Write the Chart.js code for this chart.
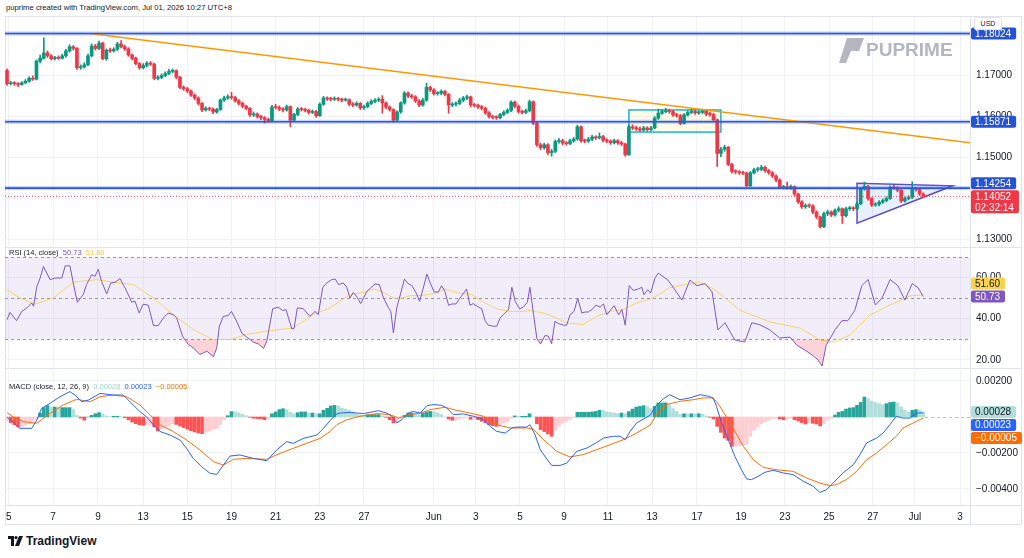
<!DOCTYPE html>
<html>
<head>
<meta charset="utf-8">
<title>EURUSD 4H</title>
<script src="https://cdn.jsdelivr.net/npm/chart.js@4.4.1/dist/chart.umd.min.js"></script>
<style>
  html, body { margin: 0; padding: 0; background: #fff; }
  body { width: 1024px; height: 558px; position: relative; overflow: hidden; font-family: "Liberation Sans", Arial, sans-serif; color: #131722; }
  canvas { position: absolute; left: 0; z-index: 2; }
  .sep { position: absolute; background: #e0e3eb; z-index: 1; }
  #header { position: absolute; left: 6px; top: 3px; font-size: 7.7px; color: #131722; }
  .legend { position: absolute; left: 9px; font-size: 7.5px; z-index: 3; white-space: pre; }
  #usd { position: absolute; left: 974px; top: 17px; width: 26px; height: 11px; border: 1px solid #e0e3eb; border-radius: 2px; font-size: 7px; line-height: 11px; text-align: center; z-index: 3; background: #fff; }
  #brand { position: absolute; left: 8px; top: 534px; font-size: 12px; font-weight: 700; display: flex; align-items: center; gap: 3px; }
</style>
</head>
<body>
<div id="header">puprime created with TradingView.com, Jul 01, 2026 10:27 UTC+8</div>
<div class="sep" style="left:5px;top:16px;width:1016px;height:1px"></div>
<div class="sep" style="left:5px;top:247px;width:1016px;height:1px"></div>
<div class="sep" style="left:5px;top:368px;width:1016px;height:1px"></div>
<div class="sep" style="left:5px;top:505px;width:1016px;height:1px"></div>
<div class="sep" style="left:5px;top:524px;width:1016px;height:1px"></div>
<div class="sep" style="left:970px;top:16px;width:1px;height:508px"></div>
<div class="sep" style="left:5px;top:16px;width:1px;height:508px"></div>
<div class="sep" style="left:1021px;top:16px;width:1px;height:508px"></div>
<div id="usd">USD</div>
<canvas id="price" width="1024" height="230" style="top:17px"></canvas>
<canvas id="rsi" width="1024" height="121" style="top:247px"></canvas>
<canvas id="macd" width="1024" height="157" style="top:368px"></canvas>
<div class="legend" style="top:248px">RSI (14, close)  <span style="color:#7e57c2">50.73</span>  <span style="color:#f5c842">51.60</span></div>
<div class="legend" style="top:382px">MACD (close, 12, 26, 9)  <span style="color:#9fd6cf">0.00028</span>  <span style="color:#2962ff">0.00023</span>  <span style="color:#ff6d00">&minus;0.00005</span></div>
<div id="brand">
  <svg width="15" height="10" viewBox="0 0 15 10"><path d="M0 0h6v10H3V3H0z" fill="#131722"/><circle cx="8" cy="1.6" r="1.6" fill="#131722"/><path d="M11 0h4l-4 10H7z" fill="#131722"/></svg>
  <span>TradingView</span>
</div>

<script>
const UP = '#089981';
const DOWN = '#f23645';
const X_MIN = -0.55;
const X_MAX = 261.7;

// x axis labels (position in bar index)
const xTickPos = [0.5, 12.5, 24.7, 37, 49, 61, 73, 85, 97, 116, 127.4, 139.4, 151.4, 163.3, 175.3, 187.5, 199.5, 211.4, 223.4, 235.3, 246.7, 259];
const xTickText = ['5', '7', '9', '13', '15', '19', '21', '23', '27', 'Jun', '3', '5', '9', '11', '13', '17', '19', '23', '25', '27', 'Jul', '3'];

// 4H candles
const firstOpen = 1.1712;
const closes = [
  1.1680, 1.1682, 1.1680, 1.1678, 1.1682, 1.1686, 1.1693, 1.1691, 1.1735, 1.1742,
  1.1755, 1.1748, 1.1741, 1.1743, 1.1742, 1.1748, 1.1760, 1.1770, 1.1766, 1.1719,
  1.1721, 1.1726, 1.1748, 1.1772, 1.1766, 1.1779, 1.1741, 1.1762, 1.1760, 1.1764,
  1.1777, 1.1770, 1.1765, 1.1750, 1.1742, 1.1729, 1.1719, 1.1725, 1.1730, 1.1728,
  1.1693, 1.1695, 1.1700, 1.1705, 1.1710, 1.1712, 1.1696, 1.1671, 1.1668, 1.1662,
  1.1652, 1.1645, 1.1632, 1.1616, 1.1620, 1.1618, 1.1611, 1.1617, 1.1640, 1.1645,
  1.1648, 1.1646, 1.1638, 1.1632, 1.1625, 1.1620, 1.1604, 1.1606, 1.1600, 1.1597,
  1.1593, 1.1590, 1.1623, 1.1622, 1.1618, 1.1616, 1.1624, 1.1591, 1.1605, 1.1618,
  1.1617, 1.1615, 1.1610, 1.1612, 1.1602, 1.1630, 1.1645, 1.1643, 1.1642, 1.1644,
  1.1642, 1.1640, 1.1641, 1.1630, 1.1628, 1.1632, 1.1621, 1.1624, 1.1632, 1.1637,
  1.1640, 1.1642, 1.1633, 1.1623, 1.1617, 1.1591, 1.1611, 1.1633, 1.1657, 1.1650,
  1.1648, 1.1638, 1.1628, 1.1640, 1.1671, 1.1665, 1.1656, 1.1657, 1.1661, 1.1654,
  1.1628, 1.1630, 1.1632, 1.1640, 1.1645, 1.1648, 1.1628, 1.1627, 1.1624, 1.1620,
  1.1609, 1.1600, 1.1598, 1.1597, 1.1605, 1.1610, 1.1615, 1.1635, 1.1625, 1.1612,
  1.1610, 1.1614, 1.1636, 1.1584, 1.1531, 1.1524, 1.1531, 1.1512, 1.1515, 1.1539,
  1.1541, 1.1535, 1.1534, 1.1541, 1.1545, 1.1575, 1.1541, 1.1540, 1.1545, 1.1550,
  1.1548, 1.1551, 1.1542, 1.1540, 1.1536, 1.1541, 1.1536, 1.1533, 1.1507, 1.1575,
  1.1572, 1.1570, 1.1567, 1.1572, 1.1568, 1.1572, 1.1596, 1.1608, 1.1612, 1.1614,
  1.1612, 1.1604, 1.1602, 1.1583, 1.1604, 1.1610, 1.1612, 1.1609, 1.1610, 1.1613,
  1.1606, 1.1605, 1.1592, 1.1510, 1.1520, 1.1525, 1.1483, 1.1466, 1.1465, 1.1463,
  1.1462, 1.1431, 1.1463, 1.1470, 1.1471, 1.1476, 1.1468, 1.1463, 1.1455, 1.1445,
  1.1427, 1.1428, 1.1426, 1.1429, 1.1411, 1.1392, 1.1380, 1.1383, 1.1382, 1.1367,
  1.1355, 1.1331, 1.1363, 1.1367, 1.1360, 1.1371, 1.1375, 1.1358, 1.1375, 1.1376,
  1.1375, 1.1387, 1.1423, 1.1430, 1.1400, 1.1384, 1.1386, 1.1391, 1.1395, 1.1400,
  1.1427, 1.1426, 1.1420, 1.1394, 1.1400, 1.1403, 1.1423, 1.1422, 1.1411, 1.14052
];
const highs = [
  1.1716, 1.1686, 1.1685, 1.1683, 1.1685, 1.1690, 1.1697, 1.1699, 1.1738, 1.1750,
  1.1792, 1.1760, 1.1751, 1.1747, 1.1748, 1.1752, 1.1764, 1.1775, 1.1773, 1.1768,
  1.1726, 1.1731, 1.1752, 1.1777, 1.1776, 1.1784, 1.1781, 1.1765, 1.1767, 1.1768,
  1.1781, 1.1785, 1.1774, 1.1768, 1.1753, 1.1745, 1.1732, 1.1729, 1.1734, 1.1734,
  1.1730, 1.1700, 1.1704, 1.1709, 1.1715, 1.1716, 1.1714, 1.1698, 1.1675, 1.1671,
  1.1665, 1.1655, 1.1648, 1.1634, 1.1624, 1.1623, 1.1621, 1.1620, 1.1643, 1.1650,
  1.1653, 1.1659, 1.1649, 1.1641, 1.1635, 1.1628, 1.1622, 1.1611, 1.1609, 1.1603,
  1.1600, 1.1596, 1.1627, 1.1630, 1.1626, 1.1622, 1.1628, 1.1626, 1.1608, 1.1622,
  1.1622, 1.1620, 1.1618, 1.1616, 1.1615, 1.1633, 1.1649, 1.1648, 1.1647, 1.1648,
  1.1647, 1.1645, 1.1645, 1.1643, 1.1634, 1.1636, 1.1634, 1.1628, 1.1636, 1.1641,
  1.1644, 1.1646, 1.1651, 1.1636, 1.1626, 1.1619, 1.1614, 1.1636, 1.1661, 1.1660,
  1.1654, 1.1651, 1.1641, 1.1644, 1.1681, 1.1674, 1.1668, 1.1661, 1.1665, 1.1664,
  1.1656, 1.1634, 1.1636, 1.1644, 1.1649, 1.1652, 1.1650, 1.1632, 1.1630, 1.1627,
  1.1623, 1.1612, 1.1603, 1.1602, 1.1608, 1.1614, 1.1619, 1.1638, 1.1638, 1.1628,
  1.1615, 1.1618, 1.1640, 1.1638, 1.1586, 1.1535, 1.1535, 1.1534, 1.1520, 1.1543,
  1.1546, 1.1545, 1.1539, 1.1545, 1.1549, 1.1579, 1.1577, 1.1545, 1.1549, 1.1554,
  1.1553, 1.1560, 1.1554, 1.1546, 1.1543, 1.1545, 1.1544, 1.1540, 1.1535, 1.1579,
  1.1580, 1.1576, 1.1574, 1.1576, 1.1575, 1.1576, 1.1600, 1.1618, 1.1617, 1.1620,
  1.1618, 1.1615, 1.1608, 1.1605, 1.1607, 1.1614, 1.1618, 1.1616, 1.1614, 1.1618,
  1.1616, 1.1610, 1.1608, 1.1594, 1.1525, 1.1530, 1.1527, 1.1486, 1.1470, 1.1468,
  1.1467, 1.1464, 1.1466, 1.1474, 1.1476, 1.1481, 1.1479, 1.1471, 1.1466, 1.1458,
  1.1448, 1.1432, 1.1440, 1.1433, 1.1431, 1.1413, 1.1395, 1.1387, 1.1387, 1.1385,
  1.1370, 1.1357, 1.1367, 1.1372, 1.1370, 1.1375, 1.1380, 1.1377, 1.1379, 1.1381,
  1.1380, 1.1391, 1.1427, 1.1440, 1.1432, 1.1402, 1.1390, 1.1395, 1.1399, 1.1404,
  1.1431, 1.1432, 1.1429, 1.1422, 1.1404, 1.1407, 1.1441, 1.1427, 1.1424, 1.1414
];
const lows = [
  1.1676, 1.1677, 1.1676, 1.1673, 1.1676, 1.1680, 1.1684, 1.1688, 1.1689, 1.1731,
  1.1740, 1.1744, 1.1738, 1.1738, 1.1739, 1.1740, 1.1745, 1.1757, 1.1762, 1.1715,
  1.1715, 1.1718, 1.1724, 1.1745, 1.1762, 1.1763, 1.1738, 1.1737, 1.1756, 1.1757,
  1.1761, 1.1767, 1.1761, 1.1747, 1.1738, 1.1726, 1.1715, 1.1716, 1.1721, 1.1724,
  1.1690, 1.1689, 1.1692, 1.1697, 1.1702, 1.1707, 1.1692, 1.1668, 1.1664, 1.1658,
  1.1649, 1.1641, 1.1628, 1.1612, 1.1613, 1.1614, 1.1607, 1.1608, 1.1615, 1.1637,
  1.1642, 1.1642, 1.1635, 1.1628, 1.1621, 1.1616, 1.1600, 1.1600, 1.1596, 1.1592,
  1.1584, 1.1586, 1.1588, 1.1618, 1.1614, 1.1611, 1.1613, 1.1575, 1.1588, 1.1602,
  1.1613, 1.1611, 1.1606, 1.1607, 1.1598, 1.1600, 1.1627, 1.1639, 1.1638, 1.1639,
  1.1638, 1.1636, 1.1637, 1.1626, 1.1624, 1.1625, 1.1617, 1.1617, 1.1621, 1.1629,
  1.1634, 1.1636, 1.1608, 1.1619, 1.1613, 1.1586, 1.1588, 1.1608, 1.1630, 1.1646,
  1.1644, 1.1634, 1.1624, 1.1625, 1.1637, 1.1661, 1.1652, 1.1652, 1.1653, 1.1650,
  1.1608, 1.1624, 1.1626, 1.1629, 1.1636, 1.1641, 1.1624, 1.1623, 1.1620, 1.1616,
  1.1605, 1.1596, 1.1594, 1.1593, 1.1594, 1.1602, 1.1607, 1.1612, 1.1621, 1.1608,
  1.1606, 1.1607, 1.1611, 1.1580, 1.1527, 1.1519, 1.1520, 1.1507, 1.1503, 1.1512,
  1.1535, 1.1531, 1.1530, 1.1531, 1.1537, 1.1542, 1.1537, 1.1536, 1.1537, 1.1541,
  1.1544, 1.1545, 1.1538, 1.1536, 1.1532, 1.1533, 1.1532, 1.1529, 1.1503, 1.1505,
  1.1568, 1.1566, 1.1563, 1.1564, 1.1564, 1.1565, 1.1570, 1.1593, 1.1605, 1.1609,
  1.1608, 1.1600, 1.1598, 1.1580, 1.1581, 1.1601, 1.1607, 1.1605, 1.1605, 1.1607,
  1.1602, 1.1601, 1.1588, 1.1478, 1.1502, 1.1515, 1.1480, 1.1462, 1.1460, 1.1459,
  1.1458, 1.1428, 1.1429, 1.1460, 1.1466, 1.1468, 1.1464, 1.1459, 1.1451, 1.1441,
  1.1424, 1.1423, 1.1422, 1.1422, 1.1407, 1.1388, 1.1376, 1.1376, 1.1378, 1.1363,
  1.1351, 1.1328, 1.1329, 1.1358, 1.1356, 1.1357, 1.1367, 1.1339, 1.1355, 1.1371,
  1.1370, 1.1372, 1.1385, 1.1420, 1.1396, 1.1380, 1.1381, 1.1382, 1.1388, 1.1392,
  1.1398, 1.1422, 1.1416, 1.1390, 1.1391, 1.1397, 1.1400, 1.1418, 1.1407, 1.1402
];

// drawings on the price pane
const levelPrices = [1.18024, 1.15871, 1.14254];
const trendStart = [23.1, 1.1802];
const trendEnd = [261.7, 1.1536];
const rangeBox = [169, 194, 1.1616, 1.1562];          // x0, x1, top, bottom
const wedgePts = [[231, 1.1437], [231, 1.1340], [257, 1.1431]];
const lastPrice = 1.14052;
const countdown = '02:32:14';

// RSI (14) and its moving average
const rsiX = [0, 0.8, 2.6, 4, 5.3, 6.7, 7.2, 8.1, 9, 9.9, 11.7, 13, 14.9, 15.8, 17.1, 18, 19.1, 20.7, 21.6, 23,
  23.9, 24.8, 25.7, 27.1, 28.2, 29.4, 30.7, 32.1, 33.9, 34.8, 35.9, 37, 38.4, 39.8, 41.1, 42.5, 43.8, 45.2, 46.1, 47.7,
  49.3, 50.6, 52.4, 53.4, 54.3, 56.1, 57, 57.7, 58.8, 60.1, 61, 62.4, 63.8, 65.1, 67, 68.3, 69.7, 70.6, 72.2, 73.7,
  74.9, 75.8, 77.4, 78, 78.9, 80.5, 82.3, 83.7, 84.6, 85.8, 86.9, 88.2, 89.2, 90.1, 91.4, 92.3, 93.2, 94.1, 95, 96.1,
  97.8, 100, 101.2, 102.3, 103.7, 104.3, 105, 105.9, 107, 108, 109.1, 110, 111.2, 112.1, 113, 114.1, 115, 116.1, 117.2, 118.1,
  119, 120, 120.9, 122, 123.1, 124, 124.9, 125.8, 126.7, 128.1, 129, 129.9, 130.8, 132.2, 133.1, 134, 134.9, 136.3, 137.2, 138.1,
  139.3, 140.3, 141.4, 142.1, 143.1, 144, 145, 146.2, 147.1, 148, 148.9, 149.8, 151.2, 152.1, 153, 154.1, 155.1, 156.2, 157.1, 158,
  159.2, 160, 161.2, 162.1, 163, 165, 166.2, 167.1, 168, 169.1, 170.2, 171.6, 172.5, 173.1, 174.1, 174.9, 176.1, 177, 179.6, 181.5,
  183.4, 185.6, 187.5, 189.7, 191.6, 193.2, 195.1, 197.8, 200.5, 202.4, 204.6, 207.3, 210, 212.8, 214.7, 216.8, 218.8, 220.4, 221.5, 222.6,
  225, 226.9, 228.5, 230.4, 232.3, 234, 236, 237.8, 240, 242.1, 244, 246, 247.6, 249];
const rsiVal = [39.5, 43, 39, 43.5, 45, 47.6, 46, 55.6, 59.7, 65.3, 58.9, 59.7, 59.7, 65.6, 65.6, 57.3, 47.9, 51.6, 56.5, 61.3,
  60.5, 64, 58, 52, 57.3, 57.7, 59.4, 54.8, 48, 48.4, 42.7, 47, 46.5, 36.6, 36.6, 40.3, 42.7, 41.9, 40.3, 31.5,
  27.4, 25.8, 22.6, 23.4, 24.2, 21.5, 25.8, 36.3, 41.1, 41.5, 43.5, 38.7, 33, 31.1, 28.5, 27.7, 25.5, 29, 44.8, 45.6,
  43.9, 44.4, 35, 35.2, 45.2, 44.8, 41.1, 43.5, 41.9, 55.2, 57.3, 58.9, 59.2, 56.5, 57.3, 55.3, 50, 52.7, 50.8, 47.3,
  53.2, 56.8, 56.5, 50, 45.2, 43.5, 33, 45.2, 52.4, 59.2, 56.8, 56.1, 52.4, 48.4, 54, 61.6, 57.3, 52.9, 52.9, 56,
  53.2, 46.5, 47.1, 47.1, 50, 52.1, 54.4, 46.5, 47.3, 45.6, 44.8, 39, 36.8, 36.3, 36.3, 40.3, 41.9, 44.4, 55.2, 48.4,
  44.7, 45.6, 47.9, 55.2, 41.9, 30.2, 27.7, 31.8, 31.5, 27.7, 38.7, 37.6, 36.8, 36.8, 41.9, 43.5, 50, 42.7, 43.2, 43.2,
  44.7, 46.5, 45.6, 47.1, 41.9, 46.3, 41.8, 44.4, 36.8, 56, 53.7, 54.4, 55.2, 51.6, 54, 52.4, 59.7, 62.1, 58.7, 54,
  49, 58.7, 56, 57, 53, 34.5, 38, 29.6, 28.6, 38, 37, 34.5, 30.6, 31, 27, 24.8, 22.3, 20, 17, 27,
  34.5, 39, 39, 44, 56, 59, 46.6, 50, 59, 56, 49, 57, 55, 50.73];
const rsiMaX = [0, 3.5, 7.6, 12.6, 18, 24.4, 28.9, 34.3, 39.8, 45.2, 50.6, 56.1, 60.6, 65.1, 70.6, 77.8, 83.2, 87.8, 90.5, 93.2,
  96.9, 99.6, 101.8, 105, 107.3, 109.5, 113.2, 116.8, 119, 122.7, 126.3, 129.9, 133.1, 136.7, 140.3, 142.1, 145.8, 149.4, 152.1, 156.6,
  160.3, 163.9, 167.5, 171.1, 174.8, 177.5, 180, 188.3, 192.4, 199.2, 207.3, 215.5, 221, 225, 229, 234.5, 240, 245.4, 249];
const rsiMaVal = [54, 50, 47, 50, 57.7, 58.9, 57.7, 56.5, 50, 41.9, 34.7, 29.8, 29.8, 32.3, 33.9, 35.5, 41.9, 45.2, 48.5, 51.6,
  52.7, 54.4, 53.2, 50, 50, 51.1, 51.3, 52.4, 54.4, 52.4, 51.6, 47.6, 44.7, 43.5, 43.5, 44, 42.7, 40.3, 37.9, 37.1,
  41.1, 43.5, 44.4, 47.6, 49.5, 52, 55, 57.8, 54, 44, 38.4, 35.4, 29.6, 28.6, 32, 41.7, 46.6, 51, 51.6];

// MACD (12, 26, 9), values in units of 0.00001
const macdX = [0, 1, 3.5, 6.7, 8.1, 9.4, 11.7, 14.4, 17.1, 18.5, 20.3, 22.1, 25.3, 28.9, 31.6, 33.4, 36.1, 38, 39.8, 41.6,
  44.3, 47, 48.8, 50.6, 53.4, 55.2, 57, 58.8, 60.6, 63.3, 67, 70.6, 73.3, 76, 77.8, 80.5, 84.2, 86, 87.8, 89.4,
  90.5, 93.2, 95, 96.9, 98.7, 100.9, 103.2, 104.6, 105.9, 107.3, 109.1, 110.4, 112.3, 114.1, 115.9, 118.1, 119.5, 121.3, 124, 126.8,
  129.5, 131.3, 133.1, 135.4, 137.2, 138.5, 141.2, 142.1, 143.5, 144.9, 146.5, 148, 150.3, 152.1, 154.8, 157.6, 160.3, 162.1, 164.8, 166.6,
  168, 169.3, 171.1, 173, 174.8, 176.3, 178.3, 180.1, 182.9, 185.6, 188.3, 190.6, 191.9, 192.8, 194.2, 196, 197.8, 199.6, 201, 202.3,
  204.1, 206, 208.2, 211, 213.6, 216.4, 219.1, 220.9, 222.7, 224.5, 227.2, 230, 231.8, 233.6, 236.3, 238.1, 239.9, 241.7, 243.5, 245.4,
  247.2, 249];
const macdE5 = [0, -17, -63, -63, -17, 48, 76, 113, 141, 122, 85, 94, 131, 122, 122, 85, 30, 0, -44, -81,
  -100, -128, -174, -230, -285, -313, -319, -267, -217, -211, -230, -243, -183, -137, -146, -119, -100, -63, -20, 15,
  22, 26, 22, 19, 26, 35, 22, 4, -33, -15, 22, 31, 22, 63, 69, 65, 50, 13, 17, 4,
  -15, -52, -80, -89, -61, -56, -56, -43, -98, -181, -228, -269, -269, -256, -191, -172, -141, -117, -107, -107,
  -126, -81, -33, -11, 10, 60, 100, 124, 96, 106, 124, 115, 106, 59, -33, -126, -219, -293, -344, -348,
  -330, -307, -296, -311, -320, -357, -385, -419, -404, -367, -311, -265, -209, -144, -117, -89, -43, 4, -6, -6,
  22, 23];
const signalX = [0, 1.7, 4.4, 8.1, 11.7, 15.3, 18.9, 22.6, 25.3, 28.9, 32.5, 36.1, 38.9, 41.6, 45.2, 48.8, 52.4, 56.1, 58.8, 61.5,
  65.1, 70.6, 74.2, 77.8, 81.4, 85.1, 87.8, 89.6, 92.3, 96, 100.5, 104.1, 106.4, 109.1, 112.3, 115, 119, 122.2, 125.8, 129.5,
  133.1, 136.7, 141.2, 143, 145.8, 149.4, 153, 156.6, 160.3, 163.9, 167.5, 171.1, 174.8, 176.5, 179.2, 182.9, 186.5, 189.2, 191.5, 192.8,
  194.6, 197.3, 200.1, 202.8, 205.5, 209.1, 213.6, 217.3, 220.9, 223.6, 225.4, 228.1, 230.9, 233.6, 236.3, 239, 241.7, 243.5, 246.3, 249];
const signalE5 = [24, 0, -26, -35, 20, 67, 98, 85, 113, 122, 113, 67, 11, -44, -81, -128, -183, -248, -267, -235,
  -230, -235, -202, -174, -146, -119, -80, -43, -15, 4, 19, 13, -6, 13, 22, 41, 54, 37, 22, 4,
  -43, -61, -61, -67, -126, -191, -222, -209, -181, -154, -126, -89, -45, 13, 69, 87, 96, 106, 106, 87,
  31, -61, -163, -237, -280, -293, -302, -339, -367, -381, -376, -348, -302, -237, -200, -154, -107, -61, -33, -5];
const histE5 = [
  -18, -31, -43, -55, -55, -46, -37, -22, -9, 22,
  52, 63, 55, 55, 52, 52, 52, 52, 41, 9,
  -6, -18, 0, 9, 18, 24, 15, 6, 2, 4,
  4, 2, -4, -15, -28, -37, -43, -46, -41, -41,
  -55, -78, -65, -55, -50, -37, -41, -50, -59, -68,
  -76, -83, -89, -92, -85, -78, -70, -63, -43, -15,
  7, 30, 28, 22, 15, 7, -2, -7, -9, -11,
  -15, -13, 18, 28, 41, 46, 41, 26, 18, 24,
  28, 28, 22, 22, 18, 18, 37, 48, 61, 65,
  61, 50, 44, 37, 26, 18, 11, 7, 13, 13,
  13, 13, 7, -2, -15, -33, -28, -11, 9, 22,
  22, 20, 13, 22, 28, 31, 30, 24, 13, 0,
  -11, -18, -17, -11, -6, -2, -13, -11, -15, -24,
  -33, -43, -48, -52, -43, -33, -26, -7, 6, 4,
  4, 4, 18, 0, -37, -70, -81, -94, -107, -74,
  -52, -33, -24, -13, -4, 26, 26, 26, 26, 28,
  31, 37, 35, 28, 26, 22, 18, 22, 18, 30,
  44, 55, 59, 63, 57, 46, 59, 78, 78, 78,
  67, 46, 31, 15, 18, 17, 18, 17, 18, 15,
  6, -2, -11, -52, -85, -117, -130, -163, -163, -159,
  -154, -150, -107, -74, -55, -37, -26, -17, -9, -6,
  -11, -15, -11, -7, -15, -22, -31, -39, -31, -35,
  -39, -50, -37, -18, -7, 11, 26, 31, 44, 50,
  52, 65, 81, 111, 102, 87, 80, 74, 68, 74,
  81, 83, 78, 55, 39, 28, 37, 41, 37, 28
];
const lastRsi = 50.73, lastRsiMa = 51.60;
const lastHist = 0.00028, lastMacd = 0.00023, lastSignal = -0.00005;

Chart.defaults.font.family = '"Liberation Sans", Arial, sans-serif';
Chart.defaults.color = '#131722';
Chart.defaults.animation = false;

const E5 = 0.00001;
const opens = closes.map((c, i) => (i === 0 ? firstOpen : closes[i - 1]));
const candleColors = closes.map((c, i) => (c >= opens[i] ? UP : DOWN));
const pts = (xs, ys, k = 1) => xs.map((x, i) => ({ x: x, y: ys[i] * k }));
const fmtMinus = (s) => s.replace('-', '\u2212');

function xScale(showLabels) {
  return {
    type: 'linear', min: X_MIN, max: X_MAX, offset: false,
    afterBuildTicks: (s) => { s.ticks = xTickPos.map((v) => ({ value: v })); },
    afterFit: (s) => { s.height = showLabels ? 20 : 0; s.paddingLeft = 0; s.paddingRight = 0; },
    grid: { color: '#f0f2f6', drawTicks: false, offset: false },
    border: { display: false },
    ticks: {
      display: showLabels, autoSkip: false, maxRotation: 0, padding: 6,
      font: { size: 10 }, color: '#131722',
      callback: (v, i) => xTickText[i]
    }
  };
}

function yScale(min, max, ticks, fmt) {
  return {
    position: 'right', min: min, max: max,
    afterBuildTicks: (s) => { s.ticks = ticks.map((v) => ({ value: v })); },
    afterFit: (s) => { s.width = 54; s.paddingTop = 0; s.paddingBottom = 0; },
    grid: { color: '#f0f2f6', drawTicks: false },
    border: { display: false },
    ticks: { padding: 6, font: { size: 10 }, color: '#131722', callback: fmt }
  };
}

// value tags on the right axis; dir says which way overlapping tags are pushed
function drawTags(chart, tags, dir) {
  const { ctx, chartArea: a, scales: { y } } = chart;
  ctx.save();
  ctx.font = '10px "Liberation Sans", Arial, sans-serif';
  ctx.textBaseline = 'middle';
  const H = 12;
  const items = tags.map((t) => ({ ...t, h: t.sub ? 23 : H, top: y.getPixelForValue(t.value) - H / 2 }));
  if (dir === 'up') {
    for (let i = items.length - 2; i >= 0; i--) {
      const lim = items[i + 1].top - 1 - items[i].h;
      if (items[i].top > lim) items[i].top = lim;
    }
  } else {
    for (let i = 1; i < items.length; i++) {
      const lim = items[i - 1].top + items[i - 1].h + 1;
      if (items[i].top < lim) items[i].top = lim;
    }
  }
  items.forEach((it) => {
    const w = Math.max(ctx.measureText(it.text).width, it.sub ? ctx.measureText(it.sub).width : 0) + 9;
    ctx.fillStyle = it.bg;
    ctx.beginPath();
    ctx.roundRect(a.right + 1, it.top, w, it.h, 2);
    ctx.fill();
    ctx.fillStyle = it.fg;
    ctx.fillText(it.text, a.right + 5, it.top + 6.5);
    if (it.sub) ctx.fillText(it.sub, a.right + 5, it.top + 17.5);
  });
  ctx.restore();
}

// ---------- price pane ----------
const priceDecor = {
  id: 'priceDecor',
  beforeDatasetsDraw(chart) {
    const { ctx, chartArea: a, scales: { x, y } } = chart;
    ctx.save();
    ctx.beginPath();
    ctx.rect(a.left, a.top, a.width, a.height);
    ctx.clip();

    // watermark
    ctx.fillStyle = '#b4b7bf';
    ctx.beginPath();
    ctx.moveTo(847, 21); ctx.lineTo(864, 21); ctx.lineTo(859, 34); ctx.lineTo(851, 34); ctx.lineTo(846, 46); ctx.lineTo(839, 46);
    ctx.closePath();
    ctx.fill();
    ctx.font = 'bold 19px "Liberation Sans", Arial, sans-serif';
    ctx.textBaseline = 'middle';
    ctx.fillText('PUPRIME', 866, 34);

    // consolidation box
    const bx0 = x.getPixelForValue(rangeBox[0]), bx1 = x.getPixelForValue(rangeBox[1]);
    const by0 = y.getPixelForValue(rangeBox[2]), by1 = y.getPixelForValue(rangeBox[3]);
    ctx.fillStyle = 'rgba(255, 235, 130, 0.18)';
    ctx.fillRect(bx0, by0, bx1 - bx0, by1 - by0);
    ctx.strokeStyle = '#1cb5c9';
    ctx.lineWidth = 1.5;
    ctx.strokeRect(bx0, by0, bx1 - bx0, by1 - by0);

    // triangle
    ctx.beginPath();
    wedgePts.forEach((p, i) => {
      const px = x.getPixelForValue(p[0]), py = y.getPixelForValue(p[1]);
      if (i === 0) ctx.moveTo(px, py); else ctx.lineTo(px, py);
    });
    ctx.closePath();
    ctx.fillStyle = 'rgba(66, 133, 244, 0.12)';
    ctx.fill();
    ctx.strokeStyle = '#5e4bc7';
    ctx.lineWidth = 1.5;
    ctx.stroke();
    ctx.restore();
  },
  afterDraw(chart) {
    const blue = '#2453d6';
    const tags = levelPrices.map((p) => ({ value: p, text: p.toFixed(5), bg: blue, fg: '#fff' }));
    tags.push({ value: lastPrice, text: lastPrice.toFixed(5), sub: countdown, bg: DOWN, fg: '#fff' });
    drawTags(chart, tags, 'up');
  }
};

const wickData = closes.map((c, i) => ({ x: i, y: [lows[i], highs[i]] }));
const bodyData = closes.map((c, i) => ({ x: i, y: [opens[i], c] }));
const flat = (p) => [{ x: X_MIN, y: p }, { x: X_MAX, y: p }];
const lineDs = (data, color, width, order, dash) => ({
  type: 'line', data: data, borderColor: color, borderWidth: width, pointRadius: 0,
  borderDash: dash || [], order: order, fill: false
});

const priceSets = [
  { type: 'bar', data: wickData, backgroundColor: candleColors, barThickness: 1, grouped: false, order: 5 },
  { type: 'bar', data: bodyData, backgroundColor: candleColors, barThickness: 3, minBarLength: 1, grouped: false, order: 4 }
];
levelPrices.forEach((p) => {
  priceSets.push(lineDs(flat(p), 'rgba(41, 98, 255, 0.28)', 4, 1));
  priceSets.push(lineDs(flat(p), '#3457d5', 1.6, 0));
});
priceSets.push(lineDs([{ x: trendStart[0], y: trendStart[1] }, { x: trendEnd[0], y: trendEnd[1] }], '#ff9800', 1.5, 0));
priceSets.push(lineDs(flat(lastPrice), 'rgba(242, 54, 69, 0.9)', 1, 2, [1, 2]));

new Chart(document.getElementById('price'), {
  type: 'bar',
  data: { datasets: priceSets },
  options: {
    responsive: false,
    layout: { padding: { left: 5, right: 0, top: 0, bottom: 0 } },
    plugins: { legend: { display: false }, tooltip: { enabled: false } },
    scales: {
      x: xScale(false),
      y: yScale(1.128171, 1.184268, [1.13, 1.14, 1.15, 1.16, 1.17, 1.18], (v) => v.toFixed(5))
    }
  },
  plugins: [priceDecor]
});

// ---------- RSI pane ----------
const rsiDecor = {
  id: 'rsiDecor',
  beforeDatasetsDraw(chart) {
    const { ctx, chartArea: a, scales: { y } } = chart;
    const y70 = y.getPixelForValue(70), y30 = y.getPixelForValue(30), y50 = y.getPixelForValue(50);
    ctx.save();
    ctx.fillStyle = 'rgba(126, 87, 194, 0.1)';
    ctx.fillRect(a.left, y70, a.width, y30 - y70);
    ctx.strokeStyle = 'rgba(120, 123, 134, 0.75)';
    ctx.lineWidth = 1;
    ctx.setLineDash([3, 3]);
    [y70, y50, y30].forEach((yy) => {
      ctx.beginPath();
      ctx.moveTo(a.left, Math.round(yy) + 0.5);
      ctx.lineTo(a.right, Math.round(yy) + 0.5);
      ctx.stroke();
    });
    ctx.restore();
  },
  afterDraw(chart) {
    drawTags(chart, [
      { value: lastRsiMa, text: lastRsiMa.toFixed(2), bg: '#f9d34a', fg: '#131722' },
      { value: lastRsi, text: lastRsi.toFixed(2), bg: '#7e57c2', fg: '#fff' }
    ], 'up');
  }
};

new Chart(document.getElementById('rsi'), {
  type: 'line',
  data: {
    datasets: [
      {
        data: pts(rsiX, rsiVal), borderColor: '#7e57c2', borderWidth: 1, pointRadius: 0,
        fill: { target: { value: 30 }, above: 'rgba(0,0,0,0)', below: 'rgba(242, 54, 69, 0.22)' }, order: 0
      },
      { data: pts(rsiMaX, rsiMaVal), borderColor: '#f7d266', borderWidth: 1, pointRadius: 0, fill: false, order: 1 }
    ]
  },
  options: {
    responsive: false,
    layout: { padding: { left: 5, right: 0, top: 0, bottom: 0 } },
    plugins: { legend: { display: false }, tooltip: { enabled: false } },
    scales: {
      x: xScale(false),
      y: yScale(16.02, 74.76, [20, 40, 60], (v) => v.toFixed(2))
    }
  },
  plugins: [rsiDecor]
});

// ---------- MACD pane ----------
const histColors = histE5.map((v, i) => {
  const prev = i === 0 ? v : histE5[i - 1];
  if (v >= 0) return v >= prev ? '#26a69a' : '#b2dfdb';
  return v < prev ? '#ff5252' : '#ffcdd2';
});

const macdDecor = {
  id: 'macdDecor',
  beforeDatasetsDraw(chart) {
    const { ctx, chartArea: a, scales: { x, y } } = chart;
    const y0 = Math.round(y.getPixelForValue(0)) + 0.5;
    ctx.save();
    ctx.strokeStyle = 'rgba(120, 123, 134, 0.5)';
    ctx.setLineDash([3, 3]);
    ctx.beginPath();
    ctx.moveTo(x.getPixelForValue(histE5.length - 0.5), y0);
    ctx.lineTo(a.right, y0);
    ctx.stroke();
    ctx.restore();
  },
  afterDraw(chart) {
    drawTags(chart, [
      { value: lastHist, text: lastHist.toFixed(5), bg: '#b2dfdb', fg: '#131722' },
      { value: lastMacd, text: lastMacd.toFixed(5), bg: '#2962ff', fg: '#fff' },
      { value: lastSignal, text: fmtMinus(lastSignal.toFixed(5)), bg: '#ff6d00', fg: '#fff' }
    ], 'down');
  }
};

new Chart(document.getElementById('macd'), {
  type: 'bar',
  data: {
    datasets: [
      { type: 'bar', data: histE5.map((v, i) => ({ x: i, y: v * E5 })), backgroundColor: histColors, barThickness: 3, grouped: false, order: 3 },
      lineDs(pts(signalX, signalE5, E5), '#ff6d00', 1, 1),
      lineDs(pts(macdX, macdE5, E5), '#2962ff', 1, 0)
    ]
  },
  options: {
    responsive: false,
    layout: { padding: { left: 5, right: 0, top: 0, bottom: 0 } },
    plugins: { legend: { display: false }, tooltip: { enabled: false } },
    scales: {
      x: xScale(true),
      y: yScale(-0.004889, 0.002722, [0.002, -0.002, -0.004], (v) => fmtMinus(v.toFixed(5)))
    }
  },
  plugins: [macdDecor]
});
</script>
</body>
</html>
